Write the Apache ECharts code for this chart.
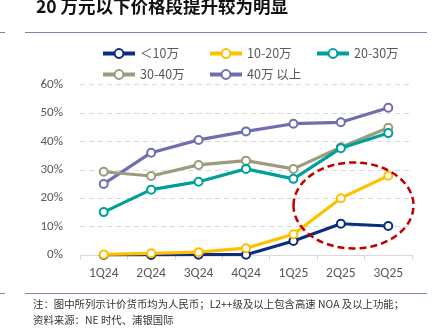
<!DOCTYPE html>
<html><head><meta charset="utf-8">
<script src="https://cdn.jsdelivr.net/npm/echarts@6/dist/echarts.min.js"></script>
<style>html,body{margin:0;padding:0;background:#fff}#c{width:436px;height:332px}</style>
</head><body><div id="c"></div>
<script>
var categories = ['1Q24','2Q24','3Q24','4Q24','1Q25','2Q25','3Q25'];
var seriesNames = ['＜10万','10-20万','20-30万','30-40万','40万 以上'];
var under10 = [0, 0, 0.1, 0.1, 4.9, 11.0, 10.2];
var s10to20 = [0.2, 0.6, 1.0, 2.4, 7.3, 20.0, 27.9];
var s20to30 = [15.1, 23.0, 25.8, 30.3, 26.8, 37.6, 42.9];
var s30to40 = [29.3, 27.8, 31.7, 33.2, 30.3, 37.9, 44.8];
var over40 = [25.0, 36.0, 40.5, 43.5, 46.2, 46.7, 51.8];
var yTicks = [0, 10, 20, 30, 40, 50, 60];

var colors = ['#0b2c7f', '#ffc000', '#00a09a', '#9c9c7c', '#6f6fb0'];
var datas = [under10, s10to20, s20to30, s30to40, over40];
var cjk = '"Noto Sans CJK SC", "Noto Sans", sans-serif';

var chart = echarts.init(document.getElementById('c'));
var series = datas.map(function (d, i) {
  return {
    name: seriesNames[i], type: 'line', data: d,
    symbol: 'emptyCircle', symbolSize: 8,
    itemStyle: { color: colors[i], borderWidth: 1.3 },
    lineStyle: { color: colors[i], width: 3.2 },
    z: 10 - i
  };
});
series[0].z = 3; series[1].z = 4;

chart.setOption({
  animation: false,
  textStyle: { fontFamily: cjk },
  title: {
    text: '20 万元以下价格段提升较为明显', left: 31, top: -7,
    textStyle: { fontSize: 17.5, fontWeight: 'bold', color: '#111', fontFamily: cjk }
  },
  legend: {
    left: 96, top: 42, width: 320, itemGap: 8, itemWidth: 32, itemHeight: 11,
    lineStyle: { width: 4 },
    textStyle: { color: '#595959', fontSize: 12.5, width: 60, lineHeight: 13, fontFamily: cjk },
    data: seriesNames
  },
  grid: { left: 80, right: 24, top: 84.5, bottom: 77 },
  xAxis: {
    type: 'category', data: categories, boundaryGap: true,
    axisLine: { lineStyle: { color: '#d9d9d9', width: 1 } },
    axisTick: { show: true, length: 5, lineStyle: { color: '#d9d9d9' } },
    axisLabel: { color: '#595959', fontSize: 13.5, margin: 12, fontFamily: 'Calibri, "Liberation Sans", sans-serif' }
  },
  yAxis: {
    type: 'value', min: 0, max: 60, interval: 10,
    axisLine: { show: false }, axisTick: { show: false },
    splitLine: { lineStyle: { color: '#d9d9d9', type: [5, 4], width: 1 } },
    axisLabel: { color: '#595959', fontSize: 13, margin: 17, formatter: function (v) { return v + '%'; },
      fontFamily: 'Calibri, "Liberation Sans", sans-serif' }
  },
  series: series,
  graphic: [
    { type: 'line', shape: { x1: 0, y1: 32.5, x2: 5, y2: 32.5 }, style: { stroke: '#7f7fb5', lineWidth: 1 } },
    { type: 'line', shape: { x1: 25, y1: 32.5, x2: 427, y2: 32.5 }, style: { stroke: '#7f7fb5', lineWidth: 1 } },
    { type: 'line', shape: { x1: 0, y1: 293.5, x2: 5, y2: 293.5 }, style: { stroke: '#7f7fb5', lineWidth: 1 } },
    { type: 'line', shape: { x1: 25, y1: 293.5, x2: 427, y2: 293.5 }, style: { stroke: '#7f7fb5', lineWidth: 1 } },
    { type: 'ellipse', shape: { cx: 353.5, cy: 205.5, rx: 60, ry: 43 }, z: 100,
      style: { fill: null, stroke: '#c00000', lineWidth: 2.5, lineDash: [7, 4] } },
    { type: 'text', left: 33, top: 299, z: 100,
      style: { text: '注：图中所列示计价货币均为人民币；L2++级及以上包含高速 NOA 及以上功能；', fill: '#333', fontSize: 10.4, fontFamily: cjk } },
    { type: 'text', left: 33, top: 315, z: 100,
      style: { text: '资料来源：NE 时代、浦银国际', fill: '#333', fontSize: 10.4, fontFamily: cjk } }
  ]
});
</script></body></html>
